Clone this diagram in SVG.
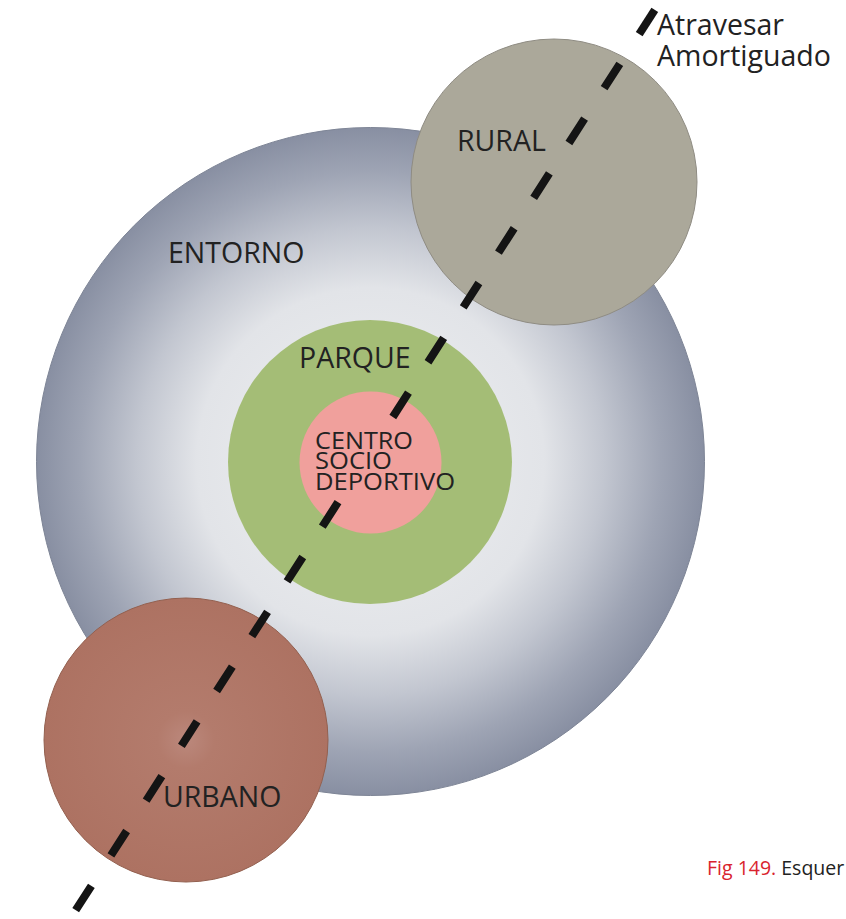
<svg xmlns="http://www.w3.org/2000/svg" width="846" height="919" viewBox="0 0 846 919">
<defs>
<radialGradient id="gEntorno" cx="370.5" cy="461.5" r="334" gradientUnits="userSpaceOnUse">
<stop offset="0" stop-color="#eff0f2"/>
<stop offset="0.52" stop-color="#e2e4e8"/>
<stop offset="0.7" stop-color="#c2c6d0"/>
<stop offset="0.87" stop-color="#9ea4b4"/>
<stop offset="1" stop-color="#888fa2"/>
</radialGradient>
<radialGradient id="gUrbano" cx="186" cy="740" r="142" gradientUnits="userSpaceOnUse">
<stop offset="0" stop-color="#bb887c"/>
<stop offset="0.2" stop-color="#b37b6c"/>
<stop offset="1" stop-color="#ad7262"/>
</radialGradient>
<style>
.lbl{font-family:"Open Sans","Noto Sans","DejaVu Sans",sans-serif;fill:#222222;}
.big{font-size:28.5px;}
.mid{font-size:23px;}
.dash{fill:none;stroke:#141414;stroke-width:8;stroke-dasharray:29 36.15;}
</style>
</defs>
<rect x="0" y="0" width="846" height="919" fill="#ffffff"/>
<g id="entorno">
<circle cx="370.5" cy="461.5" r="334" fill="url(#gEntorno)" stroke="#7e8596" stroke-width="1"/>
<text class="lbl big" x="168" y="263">ENTORNO</text>
</g>
<g id="parque">
<circle cx="370" cy="462" r="142" fill="#a4bd76"/>
<text class="lbl big" x="299" y="368">PARQUE</text>
</g>
<g id="centro">
<circle cx="370.5" cy="462.5" r="71" fill="#f0a09c"/>
<text class="lbl mid" x="315" y="449" textLength="98" lengthAdjust="spacingAndGlyphs">CENTRO</text>
<text class="lbl mid" x="315" y="469" textLength="77" lengthAdjust="spacingAndGlyphs">SOCIO</text>
<text class="lbl mid" x="315" y="490" textLength="140" lengthAdjust="spacingAndGlyphs">DEPORTIVO</text>
</g>
<g id="rural">
<circle cx="554" cy="182" r="143" fill="#aba89a" stroke="#8f8c83" stroke-width="1"/>
<text class="lbl big" x="457" y="151">RURAL</text>
</g>
<g id="urbano">
<circle cx="186" cy="740" r="142" fill="url(#gUrbano)" stroke="#93604f" stroke-width="1"/>
<text class="lbl big" x="163" y="807">URBANO</text>
</g>
<g id="connectors">
<path class="dash" d="M619.8,63.8 L392.8,417.0"/>
<path class="dash" d="M338.0,502.2 L75.7,910.2"/>
</g>
<g id="legend">
<line x1="654.8" y1="9.8" x2="639.2" y2="34.2" stroke="#141414" stroke-width="8"/>
<text class="lbl big" x="657" y="35">Atravesar</text>
<text class="lbl big" x="657" y="66">Amortiguado</text>
</g>
<g id="caption">
<text x="707" y="875" style="font-family:'Open Sans','Noto Sans',sans-serif;font-size:19.5px;"><tspan fill="#d9232e">Fig 149.</tspan><tspan fill="#222222"> Esquer</tspan></text>
</g>
</svg>
